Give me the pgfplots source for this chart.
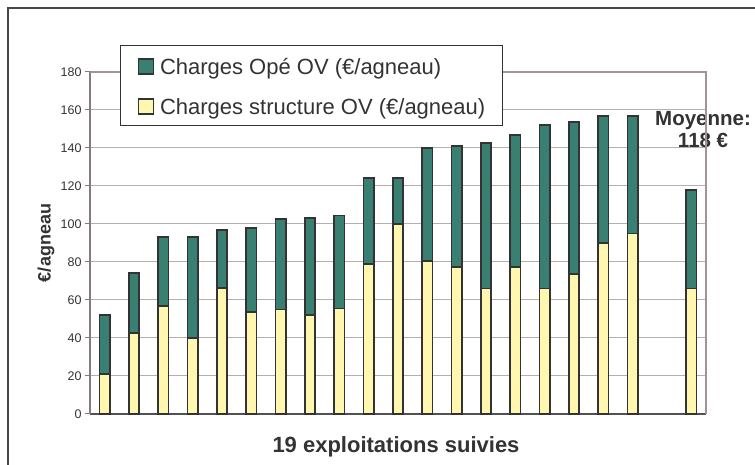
\documentclass[border=0pt]{standalone}
\usepackage{fontspec}
\setmainfont{Liberation Sans}
\usepackage{pgfplots}
\usepackage{pgfplotstable}
\pgfplotsset{compat=1.18}
\definecolor{opegreen}{HTML}{3A8072}
\definecolor{structyellow}{HTML}{FFF7B0}
\definecolor{outl}{HTML}{333333}
\definecolor{gridc}{HTML}{B8AEAE}
\definecolor{framec}{HTML}{A09494}
\definecolor{txt}{HTML}{333333}
\definecolor{yax}{HTML}{857B7B}

\pgfplotstableread{
x struct ope
0 21 31
1 42.5 31.5
2 57 36
3 40 53
4 66.5 30.5
5 53.5 44.5
6 55 47.5
7 52 51
8 55.5 49
9 79 45
10 100 24
11 80.5 59.5
12 77.5 63.5
13 66 76.5
14 77.5 69.5
15 66 86
16 73.5 80
17 90 67
18 95 62
20 66 52
}\datatable

\begin{document}
\begin{tikzpicture}
\useasboundingbox (-90pt,-51pt) rectangle (665pt,414pt);
\begin{axis}[
  at={(0pt,0pt)}, anchor=south west,
  scale only axis, width=616pt, height=342pt,
  xmin=-0.5, xmax=20.5, ymin=0, ymax=180,
  ybar stacked, bar width=10.5pt,
  xtick=\empty, ytick={0,20,...,180},
  axis x line*=bottom, axis y line*=left,
  x axis line style={outl!85, line width=1.5pt},
  y axis line style={yax, line width=1.5pt},
  tick align=outside, major tick length=5pt,
  ytick style={yax, line width=1pt},
  ymajorgrids, grid style={gridc, line width=1pt},
  clip=false,
  /pgf/number format/assume math mode=true,
  yticklabel style={font=\fontsize{12.5}{14}\selectfont, text=txt},
  ylabel={€/agneau},
  ylabel style={at={(axis description cs:-0.0714,0.5)}, anchor=center, font=\fontsize{18}{20}\selectfont\bfseries, text=txt},
  xlabel={19 exploitations suivies},
  xlabel style={at={(axis description cs:0.5,0)}, anchor=center, yshift=-33pt, xshift=-2pt, font=\fontsize{22}{24}\selectfont\bfseries, text=txt},
  reverse legend,
  legend style={at={(0.0487,1.079)}, anchor=north west, draw=outl, line width=1pt, fill=white,
    font=\fontsize{22}{24}\selectfont, text=txt,
    inner xsep=17pt, inner ysep=9pt, row sep=18pt, column sep=6pt,
    nodes={text height=20pt, text depth=2pt, inner xsep=0pt, inner ysep=0pt}},
  legend cell align=left,
  legend image code/.code={\draw[#1, line width=1.5pt] (0pt,-8.5pt) rectangle (15pt,6.5pt);},
]
\addplot[fill=structyellow, draw=outl, line width=1.8pt] table[x=x,y=struct]{\datatable};
\addlegendentry{Charges structure OV (€/agneau)}
\addplot[fill=opegreen, draw=outl, line width=1.8pt] table[x=x,y=ope]{\datatable};
\addlegendentry{Charges Opé OV (€/agneau)}
\draw[framec, line width=2pt] (rel axis cs:0,1) -- (rel axis cs:1,1) -- (rel axis cs:1,0);
\node[align=center, font=\fontsize{20.5}{22}\selectfont\bfseries, text=txt] at (axis cs:20.4,149.5) {Moyenne:\\118 €};
\end{axis}
\draw[outl!90, line width=1.5pt] (-82pt,-70pt) -- (-82pt,406pt) -- (700pt,406pt);
\end{tikzpicture}
\end{document}
